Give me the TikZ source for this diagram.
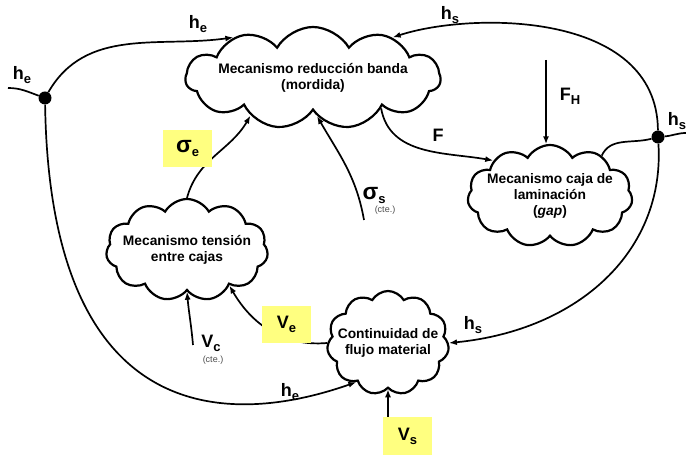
\documentclass[tikz,border=0pt]{standalone}
\usepackage{fontspec}
\setmainfont{Liberation Sans}
\usetikzlibrary{shapes.symbols, arrows.meta}
\definecolor{hlyellow}{RGB}{255,255,128}
\newcommand{\lsub}[1]{\raisebox{-4pt}{\fontsize{13}{13}\selectfont #1}}
\newcommand{\bigsig}{{\fontsize{23}{23}\selectfont σ}}

\begin{document}
\begin{tikzpicture}[
  x=1pt, y=1pt,
  >={Latex[length=8pt,width=6pt]},
  cloudbox/.style={draw, cloud, cloud puffs=11, cloud puff arc=120,
    cloud ignores aspect, line width=2.2pt, inner sep=0pt},
  cloudtext/.style={font=\fontsize{13.8}{16}\selectfont\bfseries, align=center},
  lbl/.style={font=\fontsize{18}{18}\selectfont\bfseries, inner sep=0pt},
  cte/.style={font=\fontsize{9}{9}\selectfont, text=black!70, inner sep=0pt},
  hlbox/.style={fill=hlyellow, minimum width=49pt, minimum height=37pt,
    inner sep=0pt, font=\fontsize{18}{18}\selectfont\bfseries},
  arrow/.style={->, line width=1.7pt},
  wire/.style={line width=1.7pt},
  junction/.style={circle, fill=black, minimum size=13pt, inner sep=0pt},
]
\useasboundingbox (0,0) rectangle (686,455);

% ===== Clouds =====
\node[cloudbox, minimum width=255pt, minimum height=102pt] (reduccion) at (313,377) {};
\node[cloudtext] (reduccion-txt) at (reduccion) {Mecanismo reducción banda\\(mordida)};

\node[cloudbox, minimum width=165pt, minimum height=102pt] (caja) at (550,259) {};
\node[cloudtext] (caja-txt) at (caja) {Mecanismo caja de\\laminación\\(\textit{gap})};

\node[cloudbox, minimum width=162pt, minimum height=102pt] (tension) at (187,205) {};
\node[cloudtext] (tension-txt) at (tension) {Mecanismo tensión\\entre cajas};

\node[cloudbox, minimum width=122pt, minimum height=104pt] (continuidad) at (388,112) {};
\node[cloudtext] (continuidad-txt) at (continuidad) {Continuidad de\\flujo material};

% ===== Junctions and free ends =====
\node[junction] (jin) at (45,357) {};
\node[junction] (jout) at (658,318) {};
\coordinate (hein) at (8,367);
\coordinate (hsout) at (686,322);
\coordinate (fh) at (546,395);
\coordinate (sigs) at (364,235);
\coordinate (vc) at (193,110);
\coordinate (vs) at (388,13);

% ===== Connectors =====
\draw[wire] (hein) to[out=0,in=160] (jin);
\draw[arrow] (jin) to[out=60,in=188] (reduccion.153);
\draw[arrow] (jin) .. controls (50,35) and (220,25) .. (continuidad.231);
\draw[arrow] (jout) .. controls (657,445) and (470,443) .. (reduccion.27);
\draw[wire] (caja.38) to[out=65,in=195] (jout);
\draw[wire] (jout) to[out=5,in=180] (hsout);
\draw[arrow] (jout) .. controls (665,205) and (580,125) .. (continuidad.0);
\draw[arrow] (reduccion.336) to[out=-80,in=170] (caja.148);
\draw[arrow] (fh) -- (fh |- caja.95);
\draw[arrow] (tension.90) to[out=75,in=240] (reduccion.211);
\draw[arrow] (sigs) to[out=100,in=300] (reduccion.276);
\draw[arrow] (vc) to[out=95,in=275] (tension.270);
\draw[arrow] (continuidad.180) to[out=185,in=300] (tension.320);
\draw[arrow] (vs) -- (continuidad.270);

% ===== Labels =====
\node[lbl] (he-in) at (22,380) {h\lsub{e}};
\node[lbl] (he-top) at (198,431) {h\lsub{e}};
\node[lbl] (hs-top) at (450,440) {h\lsub{s}};
\node[lbl] (fh-lbl) at (570,359) {F\lsub{H}};
\node[lbl] (hs-out) at (677,334) {h\lsub{s}};
\node[lbl] (f-lbl) at (438,320) {F};
\node[lbl] (sigs-lbl) at (374,260) {\bigsig\lsub{s}};
\node[cte] (sigs-cte) at (385,245) {(cte.)};
\node[hlbox] (sige-lbl) at (187.5,306.5) {\bigsig\lsub{e}};
\node[lbl] (vc-lbl) at (211,112) {V\lsub{c}};
\node[cte] (vc-cte) at (213,95) {(cte.)};
\node[hlbox] (ve-lbl) at (286.5,130.5) {V\lsub{e}};
\node[lbl] (he-bot) at (290,63) {h\lsub{e}};
\node[lbl] (hs-cont) at (473,130) {h\lsub{s}};
\node[hlbox, minimum height=38pt] (vs-lbl) at (407.5,19) {V\lsub{s}};

\end{tikzpicture}
\end{document}
